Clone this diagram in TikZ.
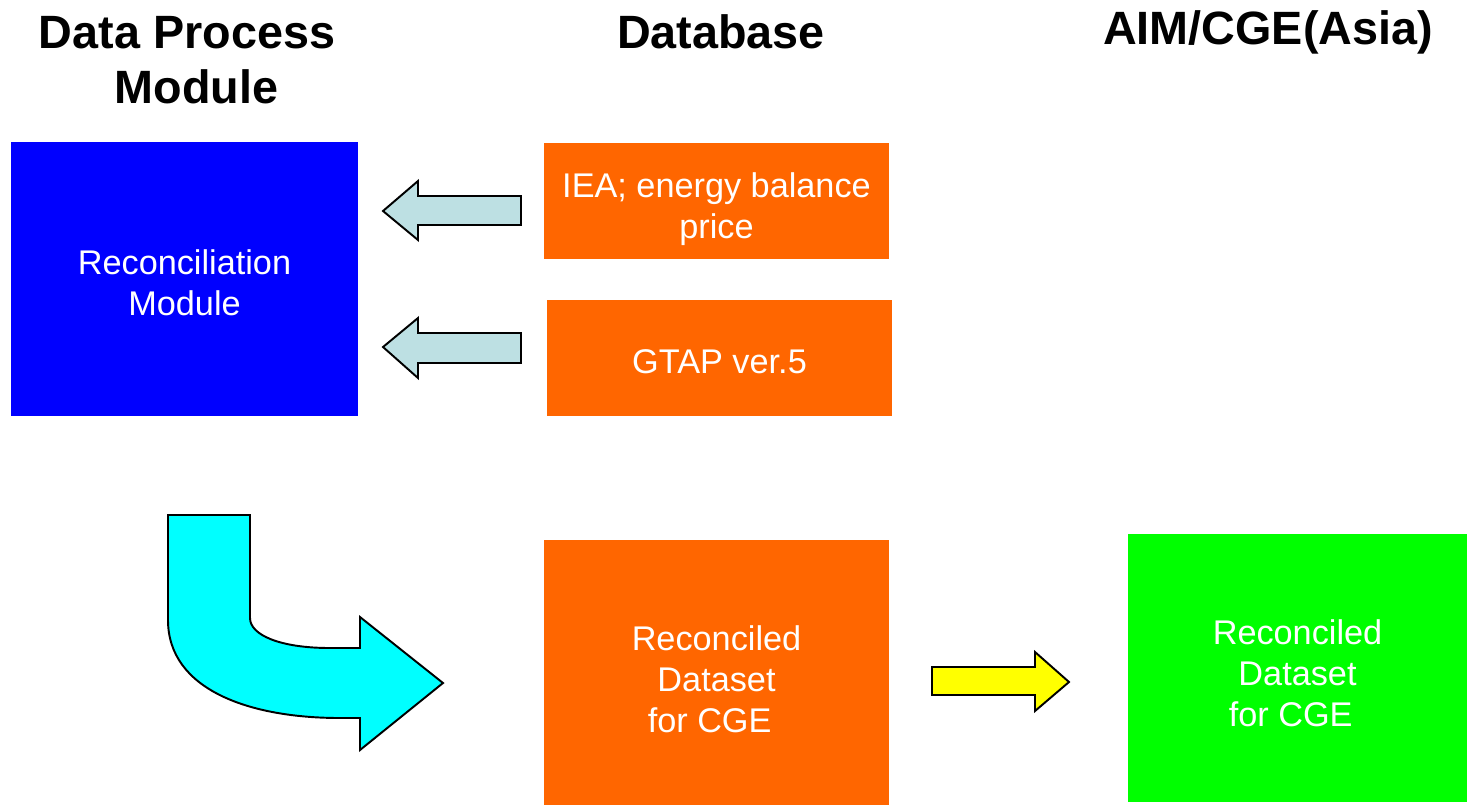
\documentclass[tikz,border=0pt]{standalone}
\usepackage{fontspec}
\setmainfont{Liberation Sans}
\definecolor{boxblue}{HTML}{0000FF}
\definecolor{boxorange}{HTML}{FF6600}
\definecolor{boxgreen}{HTML}{00FF00}
\definecolor{arrlight}{HTML}{BDE0E3}
\definecolor{arrcyan}{HTML}{00FFFF}
\definecolor{arryellow}{HTML}{FFFF00}
\begin{document}
\begin{tikzpicture}[x=0.02cm,y=-0.02cm,
  heading/.style={font=\fontsize{26.6}{31.7}\selectfont\bfseries, align=center, inner sep=0pt},
  panel/.style={inner sep=0pt},
  paneltext/.style={inner sep=0pt, text=white, align=center,
    font=\fontsize{19.5}{23.4}\selectfont},
  blockarrow/.style={draw=black, line width=1.1pt, line join=miter}]
\useasboundingbox (0,0) rectangle (1470,806);
% headings
\node[heading] (h1) at (187,60) {Data Process\\\hspace*{0.4em}Module};
\node[heading] (h2) at (721,32) {Database};
\node[heading] (h3) at (1268,32) {AIM/CGE(Asia)};
% boxes
\node[panel, fill=boxblue, minimum width=347*0.02cm, minimum height=274*0.02cm] (recmod) at (184.5,279) {};
\node[panel, fill=boxorange, minimum width=345*0.02cm, minimum height=116*0.02cm] (iea) at (716.5,201) {};
\node[panel, fill=boxorange, minimum width=345*0.02cm, minimum height=116*0.02cm] (gtap) at (719.5,358) {};
\node[panel, fill=boxorange, minimum width=345*0.02cm, minimum height=265*0.02cm] (recdata) at (716.5,672.5) {};
\node[panel, fill=boxgreen, minimum width=339*0.02cm, minimum height=268*0.02cm] (cge) at (1297.5,668) {};
% box texts
\node[paneltext] (recmodtext) at ([yshift=-0.08cm]recmod.center) {Reconciliation\\Module};
\node[paneltext] (ieatext) at ([yshift=-0.16cm]iea.center) {IEA; energy balance\\price};
\node[paneltext] (gtaptext) at ([yshift=-0.08cm]gtap.center) {GTAP ver.5};
\node[paneltext] (recdatatext) at ([yshift=-0.13cm]recdata.center) {Reconciled\\Dataset\\for CGE\hspace*{0.4em}};
\node[paneltext] (cgetext) at ([yshift=-0.1cm]cge.center) {Reconciled\\Dataset\\for CGE\hspace*{0.4em}};
% block arrows
\draw[blockarrow, fill=arrlight] (521,196) -- (418,196) -- (418,181) -- (383,211) -- (418,240) -- (418,225) -- (521,225) -- cycle;
\draw[blockarrow, fill=arrlight] (521,333) -- (418,333) -- (418,318) -- (383,347) -- (418,378) -- (418,363) -- (521,363) -- cycle;
\draw[blockarrow, fill=arryellow] (932,667) -- (1035,667) -- (1035,652) -- (1069,682) -- (1035,711) -- (1035,695) -- (932,695) -- cycle;
\draw[blockarrow, fill=arrcyan] (168,515) -- (250,515) -- (250,618)
  .. controls (250,635) and (280,648) .. (330,648) -- (360,648) -- (360,617)
  -- (443,683) -- (360,750) -- (360,718) -- (340,718)
  .. controls (250,718) and (168,690) .. (168,620) -- cycle;
\end{tikzpicture}
\end{document}
